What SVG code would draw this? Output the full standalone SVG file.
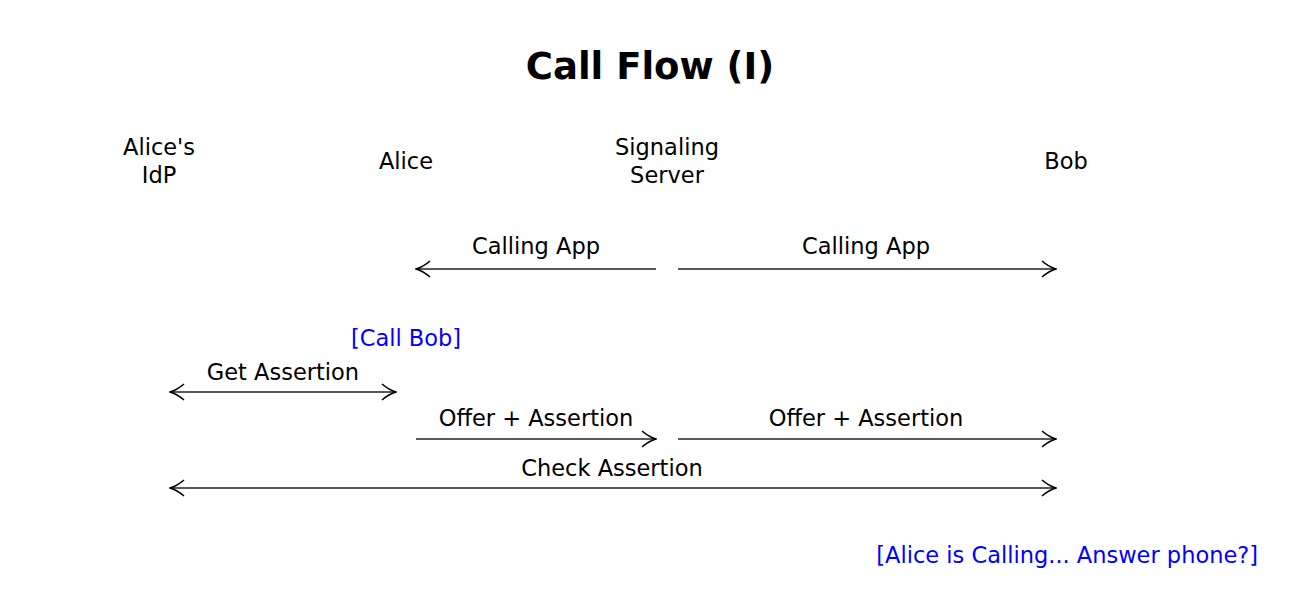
<svg xmlns="http://www.w3.org/2000/svg" width="1301" height="611" viewBox="0 0 1301 611">
<style>
text{font-family:"DejaVu Sans","Liberation Sans",sans-serif;font-size:22.5px;fill:#000;text-anchor:middle}
.title{font-size:37px;font-weight:bold}
.blue{fill:#0000ff}
.ln{stroke:#222;stroke-width:1.6;fill:none}
</style>
<defs>
<marker id="ah" viewBox="0 0 16 18" refX="15" refY="9" markerWidth="16" markerHeight="18" markerUnits="userSpaceOnUse" orient="auto-start-reverse">
<path d="M1,1 Q8,7 15,9 Q8,11 1,17" fill="none" stroke="#000" stroke-width="1.6"/>
</marker>
</defs>
<rect width="1301" height="611" fill="#fff"/>
<text class="title" x="650" y="79">Call Flow (I)</text>
<g id="idp"><text x="159" y="155">Alice's</text><text x="159" y="183">IdP</text></g>
<g id="alice"><text x="406" y="169">Alice</text></g>
<g id="server"><text x="667" y="155">Signaling</text><text x="667" y="183">Server</text></g>
<g id="bob"><text x="1066" y="169">Bob</text></g>
<g id="connectors">
<line class="ln" x1="656" y1="269" x2="416" y2="269" marker-end="url(#ah)"/>
<text x="536" y="254">Calling App</text>
<line class="ln" x1="678" y1="269" x2="1056" y2="269" marker-end="url(#ah)"/>
<text x="866" y="254">Calling App</text>
<line class="ln" x1="170" y1="392" x2="396" y2="392" marker-start="url(#ah)" marker-end="url(#ah)"/>
<text x="283" y="380">Get Assertion</text>
<line class="ln" x1="416" y1="439" x2="656" y2="439" marker-end="url(#ah)"/>
<text x="536" y="426">Offer + Assertion</text>
<line class="ln" x1="678" y1="439" x2="1056" y2="439" marker-end="url(#ah)"/>
<text x="866" y="426">Offer + Assertion</text>
<line class="ln" x1="170" y1="488" x2="1056" y2="488" marker-start="url(#ah)" marker-end="url(#ah)"/>
<text x="612" y="476">Check Assertion</text>
</g>
<text class="blue" x="406" y="346">[Call Bob]</text>
<text class="blue" x="1258" y="563" style="text-anchor:end">[Alice is Calling... Answer phone?]</text>
</svg>
